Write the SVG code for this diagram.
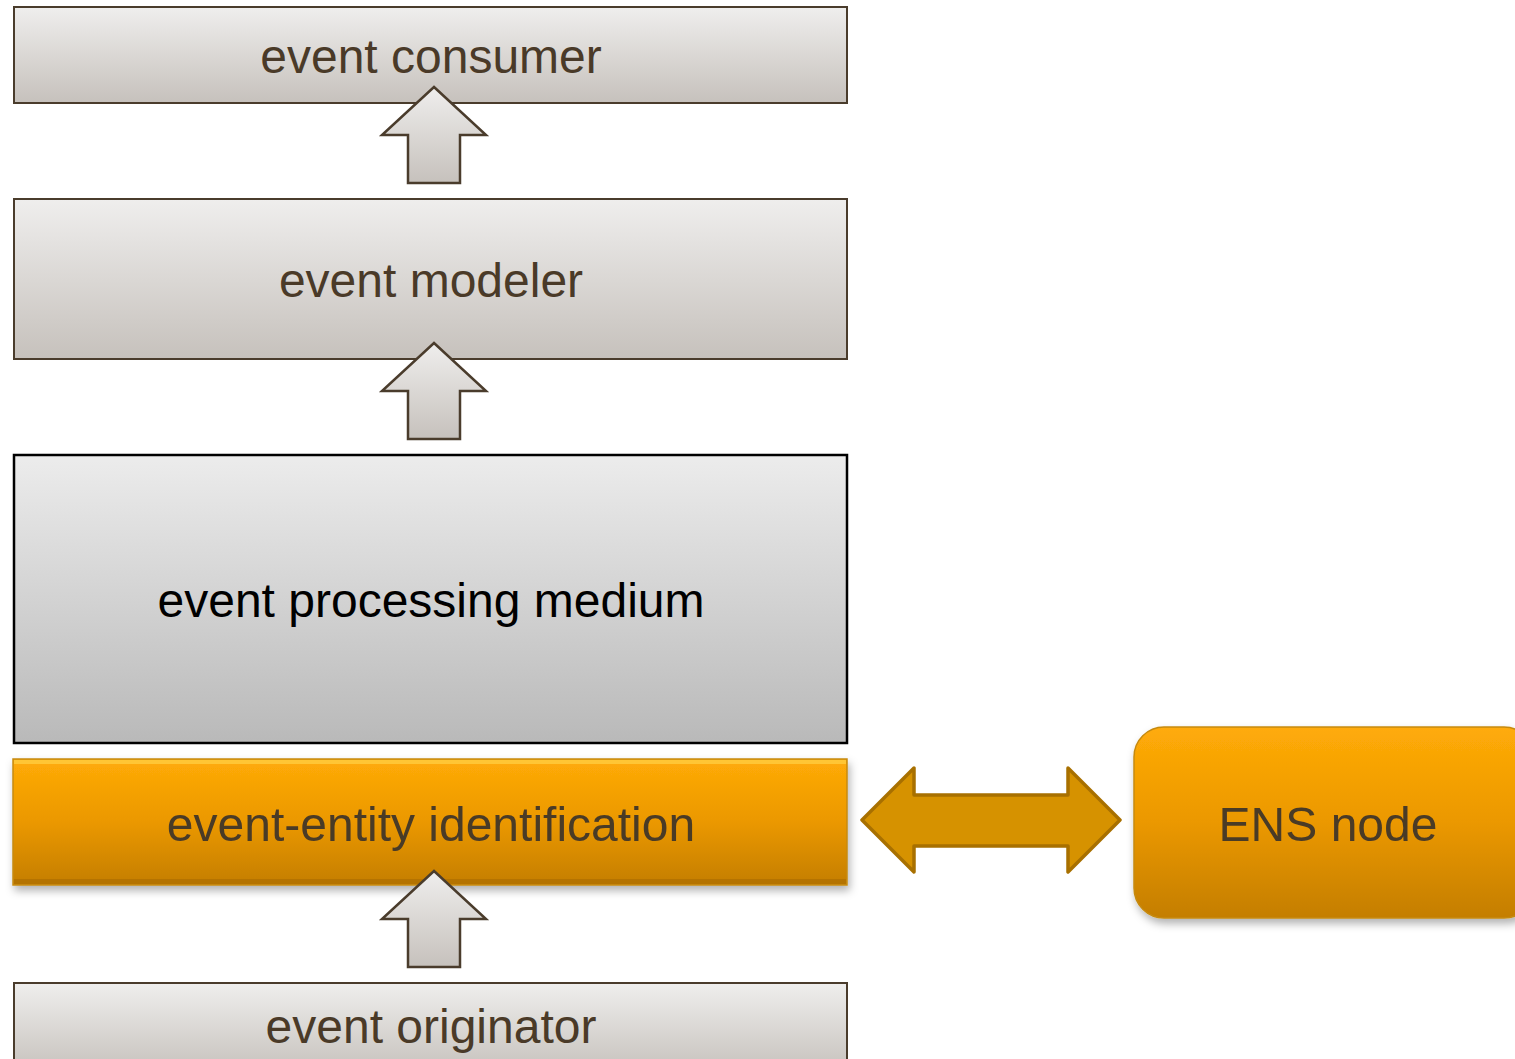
<svg xmlns="http://www.w3.org/2000/svg" width="1515" height="1059" viewBox="0 0 1515 1059">
<defs>
<linearGradient id="gBrown" x1="0" y1="0" x2="0" y2="1">
<stop offset="0" stop-color="#efeeed"/><stop offset="1" stop-color="#c6c1bc"/>
</linearGradient>
<linearGradient id="gGray" x1="0" y1="0" x2="0" y2="1">
<stop offset="0" stop-color="#ececec"/><stop offset="1" stop-color="#b9b9b9"/>
</linearGradient>
<linearGradient id="gOrange" x1="0" y1="0" x2="0" y2="1">
<stop offset="0" stop-color="#ffab08"/><stop offset="0.5" stop-color="#eb9800"/><stop offset="1" stop-color="#c47e04"/>
</linearGradient>
<filter id="shadow" x="-5%" y="-10%" width="110%" height="130%">
<feDropShadow dx="2" dy="5" stdDeviation="4" flood-color="#000" flood-opacity="0.3"/>
</filter>
<style>
.bx{fill:url(#gBrown);stroke:#4a3c2c;stroke-width:2}
.arr{fill:url(#gBrown);stroke:#4a3c2c;stroke-width:2.5;stroke-linejoin:miter}
.t{font-family:"Liberation Sans",Arial,sans-serif;font-size:48px;text-anchor:middle;fill:#4a3a28}
</style>
</defs>
<g id="consumer"><rect class="bx" x="14" y="7" width="833" height="96"/><text class="t" x="431" y="73">event consumer</text></g>
<g id="modeler"><rect class="bx" x="14" y="199" width="833" height="160"/><text class="t" x="431" y="297">event modeler</text></g>
<g id="medium"><rect x="14" y="455" width="833" height="288" fill="url(#gGray)" stroke="#000" stroke-width="2.5"/><text class="t" x="431" y="617" style="fill:#000">event processing medium</text></g>
<g id="identification" filter="url(#shadow)"><rect x="13" y="759" width="834" height="126" fill="url(#gOrange)" stroke="#c68a10" stroke-width="1.5"/><rect x="14" y="760" width="832" height="4" fill="#ffd24a" opacity="0.7"/><rect x="14" y="879" width="832" height="5" fill="#a86a00" opacity="0.6"/><text class="t" x="431" y="841">event-entity identification</text></g>
<g id="ens" filter="url(#shadow)"><rect x="1134" y="727" width="400" height="191" rx="30" fill="url(#gOrange)" stroke="#c68a10" stroke-width="1.5"/><text class="t" x="1328" y="841">ENS node</text></g>
<g id="originator"><rect class="bx" x="14" y="983" width="833" height="90"/><text class="t" x="431" y="1043">event originator</text></g>
<g id="connectors">
<polygon class="arr" points="434,87 486,135 460,135 460,183 408,183 408,135 382,135"/>
<polygon class="arr" points="434,343 486,391 460,391 460,439 408,439 408,391 382,391"/>
<polygon class="arr" points="434,871 486,919 460,919 460,967 408,967 408,919 382,919"/>
<polygon points="862,820 914,768 914,795 1068,795 1068,768 1120,820 1068,872 1068,846 914,846 914,872" fill="#d69200" stroke="#a87000" stroke-width="3.5" stroke-linejoin="round"/>
</g>
</svg>
